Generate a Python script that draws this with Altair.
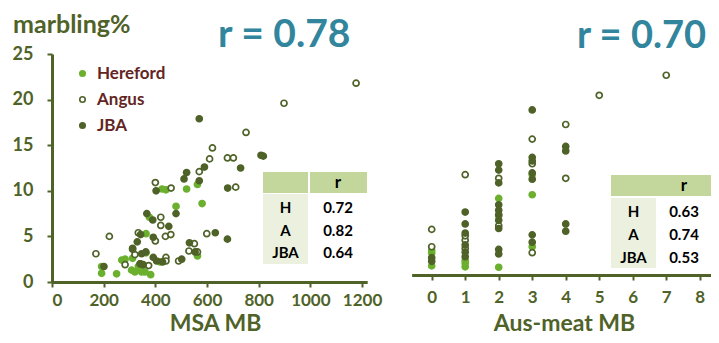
import altair as alt
import pandas as pd

# ---------------- data ----------------
breeds = ["Hereford", "Angus", "JBA"]

left_h_x = [192, 192, 250, 270, 283, 308, 312, 334, 347, 321, 360, 382, 364, 364, 377, 418, 426, 441, 480, 521, 563, 581, 563, 341]
left_h_y = [1.7, 0.95, 0.9, 2.4, 2.5, 1.3, 2.6, 1.7, 1.1, 1.1, 1.1, 0.8, 5.3, 3.2, 7.1, 2.2, 10.2, 10.1, 8.3, 10.2, 10.7, 8.6, 2.85, 1.4]

left_a_x = [170, 222, 283, 312, 321, 334, 342, 374, 400, 400, 421, 421, 439, 460, 441, 441, 490, 461, 530, 551, 563, 570, 599, 610, 621, 679, 702, 711, 751, 898, 1177]
left_a_y = [3.1, 5.0, 1.9, 3.7, 3.0, 5.4, 2.0, 1.8, 10.9, 4.5, 7.1, 6.2, 5.0, 5.2, 2.7, 2.3, 2.3, 10.3, 3.4, 4.2, 3.3, 12.1, 5.3, 13.5, 14.7, 13.6, 13.6, 10.4, 16.4, 19.6, 21.8]

left_j_x = [201, 312, 330, 343, 347, 341, 353, 367, 390, 392, 392, 405, 428, 403, 452, 480, 502, 511, 521, 532, 554, 570, 570, 590, 632, 679, 680, 730, 809, 818, 363]
left_j_y = [1.7, 3.6, 4.4, 5.2, 3.1, 2.0, 1.9, 7.5, 6.8, 4.9, 2.7, 2.3, 2.2, 10.0, 6.1, 7.5, 2.5, 11.3, 12.0, 4.3, 3.3, 11.1, 17.9, 12.6, 5.4, 4.7, 10.3, 12.5, 13.9, 13.8, 3.3]

right_h_x = [0, 0, 0, 1, 1, 1, 2, 2, 2, 3, 3, 3]
right_h_y = [1.0, 2.4, 2.7, 0.9, 1.3, 1.6, 8.4, 0.85, 6.5, 8.8, 3.1, 11.0]

right_a_x = [0, 0, 1, 1, 1, 1, 2, 2, 3, 3, 3, 4, 4, 5, 7]
right_a_y = [5.0, 3.1, 11.0, 3.8, 2.9, 4.3, 10.6, 5.4, 14.9, 12.2, 2.45, 16.5, 10.6, 19.7, 21.9]

right_j_x = [0, 0, 1, 1, 1, 1, 1, 1, 2, 2, 2, 2, 2, 2, 2, 2, 2, 2, 3, 3, 3, 3, 3, 3, 3, 4, 4, 4, 4]
right_j_y = [1.9, 1.5, 6.9, 5.6, 4.6, 3.3, 2.0, 2.5, 12.2, 11.5, 10.1, 7.7, 7.1, 6.6, 6.0, 5.1, 2.8, 2.3,
             18.1, 12.9, 12.5, 11.2, 10.5, 4.4, 3.6, 14.1, 13.6, 5.6, 4.8]

table_labels = ["H", "A", "JBA"]
left_r = [0.72, 0.82, 0.64]
right_r = [0.63, 0.74, 0.53]
left_overall = "r = 0.78"
right_overall = "r = 0.70"

msa_ticks = [0, 200, 400, 600, 800, 1000, 1200]
aus_ticks = [0, 1, 2, 3, 4, 5, 6, 7, 8]
y_ticks = [0, 5, 10, 15, 20, 25]

# ---------------- style ----------------
OLIVE = "#4f6228"
LIGHT = "#6bb02e"
TEAL = "#31859c"
MAROON = "#632523"
HDR = "#c3d69b"
CELL = "#ebf1de"
FONT = "Lato"
W, H = 703, 327


def frame(xs, ys, breed, xname):
    return pd.DataFrame({xname: xs, "marbling": ys, "breed": breed})


left_df = pd.concat([frame(left_h_x, left_h_y, "Hereford", "msa"),
                     frame(left_a_x, left_a_y, "Angus", "msa"),
                     frame(left_j_x, left_j_y, "JBA", "msa")], ignore_index=True)
right_df = pd.concat([frame(right_h_x, right_h_y, "Hereford", "aus"),
                      frame(right_a_x, right_a_y, "Angus", "aus"),
                      frame(right_j_x, right_j_y, "JBA", "aus")], ignore_index=True)

fill_scale = alt.Scale(domain=breeds, range=[LIGHT, "white", OLIVE])
stroke_scale = alt.Scale(domain=breeds, range=[LIGHT, OLIVE, OLIVE])
legend = alt.Legend(title=None, orient="none", legendX=66, legendY=57, padding=0,
                    labelFont=FONT, labelFontSize=17, labelFontWeight="bold", labelColor=MAROON,
                    symbolSize=30, symbolStrokeWidth=1.6, rowPadding=8, labelOffset=6)

axis_style = dict(domainColor=OLIVE, domainWidth=3, tickColor=OLIVE, tickWidth=2, tickSize=5,
                  labelColor=OLIVE, labelFont=FONT, labelFontWeight="bold",
                  grid=False, titleColor=OLIVE, titleFont=FONT, titleFontSize=23, titleFontWeight="bold")

LEFT_Y0, LEFT_Y25 = 274, 46
RIGHT_Y0, RIGHT_Y25 = 267, 39
TITLE_BASE = 322.5

left = alt.Chart(left_df).mark_circle(size=36, strokeWidth=1.7, opacity=1).encode(
    x=alt.X("msa:Q", scale=alt.Scale(domain=[0, 1220], range=[44, 359.2], nice=False, zero=False),
            axis=alt.Axis(values=msa_ticks, format="d", orient="bottom", offset=LEFT_Y0 - H, labelPadding=5,
                          labelFontSize=17,
                          title="MSA MB", titleX=207, titleY=TITLE_BASE - LEFT_Y0, titleBaseline="alphabetic",
                          titleAlign="center", **axis_style)),
    y=alt.Y("marbling:Q", scale=alt.Scale(domain=[0, 25], range=[LEFT_Y0, LEFT_Y25], nice=False, zero=False),
            axis=alt.Axis(values=y_ticks, orient="left", offset=-44, labelPadding=14, labelFontSize=18,
                          title=None, **axis_style)),
    fill=alt.Fill("breed:N", scale=fill_scale, legend=legend),
    stroke=alt.Stroke("breed:N", scale=stroke_scale, legend=legend),
)

right = alt.Chart(right_df).mark_circle(size=36, strokeWidth=1.7, opacity=1).encode(
    x=alt.X("aus:Q", scale=alt.Scale(domain=[-0.6, 8.5], range=[403.6, 708.5], nice=False, zero=False),
            axis=alt.Axis(values=aus_ticks, format="d", orient="bottom", offset=RIGHT_Y0 - H, labelPadding=9,
                          labelFontSize=17,
                          title="Aus-meat MB", titleX=556, titleY=TITLE_BASE - RIGHT_Y0, titleBaseline="alphabetic",
                          titleAlign="center", **axis_style)),
    y=alt.Y("marbling:Q", scale=alt.Scale(domain=[0, 25], range=[RIGHT_Y0, RIGHT_Y25], nice=False, zero=False),
            axis=None),
    fill=alt.Fill("breed:N", scale=fill_scale),
    stroke=alt.Stroke("breed:N", scale=stroke_scale),
)

one = pd.DataFrame({"k": [0]})


def rect(color, x1, x2, y1, y2):
    return alt.Chart(one).mark_rect(color=color).encode(
        x=alt.value(x1), x2=alt.value(x2), y=alt.value(y1), y2=alt.value(y2))


def table(values, xl, xv, ytop, ybot, xhdr, yhdr):
    df = pd.DataFrame({"label": table_labels, "r": values})
    yenc = alt.Y("label:N", scale=alt.Scale(domain=table_labels, range=[ytop, ybot], padding=0), axis=None)
    lab = alt.Chart(df).mark_text(font=FONT, fontSize=15, fontWeight="bold", color="black",
                                  align="center", baseline="middle").encode(
        x=alt.value(xl), y=yenc, text="label:N")
    val = alt.Chart(df).mark_text(font=FONT, fontSize=15, fontWeight="bold", color="black",
                                  align="center", baseline="middle").encode(
        x=alt.value(xv), y=yenc, text=alt.Text("r:Q", format=".2f"))
    hdr = alt.Chart(one).mark_text(font=FONT, fontSize=17, fontWeight="bold", color="black",
                                   align="center", baseline="middle").encode(
        x=alt.value(xhdr), y=alt.value(yhdr), text=alt.value("r"))
    return [lab, val, hdr]


left_tab = [rect(HDR, 255, 300, 164, 185), rect(HDR, 302, 359, 164, 185), rect(CELL, 255, 300, 186, 256)] + \
    table(left_r, 277.5, 330, 200, 245, 330, 174.5)
right_tab = [rect(HDR, 603, 706, 167, 188), rect(CELL, 603, 648, 190, 260)] + \
    table(right_r, 625.5, 676, 204, 250, 676, 177.5)


def label(text, x, y, size, color):
    return alt.Chart(one).mark_text(font=FONT, fontSize=size, fontWeight="bold", color=color,
                                    align="left", baseline="alphabetic").encode(
        x=alt.value(x), y=alt.value(y), text=alt.value(text))


texts = [label("marbling%", 5, 25, 25, OLIVE),
         label(left_overall, 210, 39, 39, TEAL),
         label(right_overall, 569, 40, 38, TEAL)]

chart = alt.layer(left, right, *left_tab, *right_tab, *texts).resolve_scale(
    x="independent", y="independent"
).properties(
    width=W, height=H, padding=0, autosize=alt.AutoSizeParams(type="none"), background="white"
).configure_view(stroke=None)

chart.save("out.html", embed_options={"renderer": "svg", "actions": False})
